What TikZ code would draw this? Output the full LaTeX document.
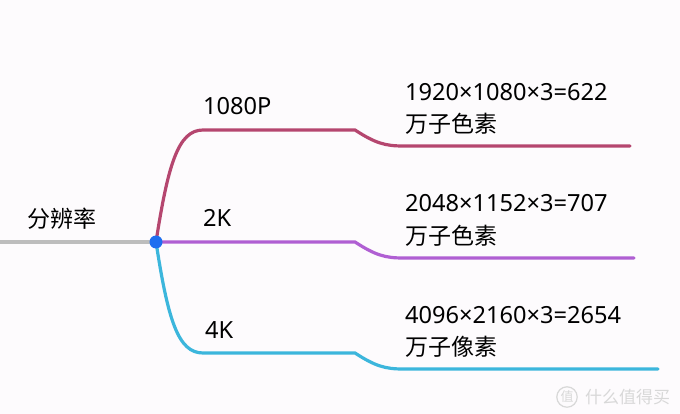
\documentclass[tikz,border=0pt]{standalone}
\usepackage{fontspec}
\setmainfont{Noto Sans}
\newfontfamily\cjk{Noto Sans CJK SC}
\definecolor{cMag}{HTML}{B5466F}
\definecolor{cPur}{HTML}{B05FD3}
\definecolor{cCyan}{HTML}{3CB6DC}
\definecolor{cGray}{HTML}{BDBDBD}
\definecolor{cDot}{HTML}{1E6FF0}
\definecolor{cBg}{HTML}{FDFBFD}
\definecolor{cWm}{HTML}{D8D8D8}
\begin{document}
\begin{tikzpicture}[x=1pt,y=-1pt,
  lbl/.style={inner sep=0pt,anchor=west,font=\fontsize{23.6}{26}\selectfont},
  zh/.style={inner sep=0pt,anchor=west,font=\cjk\fontsize{23}{26}\selectfont},
  br/.style={line width=3.2pt,line cap=round}]
\fill[cBg] (0,0) rectangle (680,414);
\useasboundingbox (0,0) rectangle (680,414);
% root
\node[zh,anchor=center] (root) at (62,219) {分辨率};
\coordinate (left) at (0,242);
\coordinate (hub) at (156,242);
% 1080P
\coordinate (a1) at (203,130);
\coordinate (a2) at (355,130);
\coordinate (a3) at (403,146);
\coordinate (a4) at (630,146);
% 2K
\coordinate (b2) at (355,242);
\coordinate (b3) at (403,258);
\coordinate (b4) at (634,258);
% 4K
\coordinate (c1) at (203,353);
\coordinate (c2) at (355,353);
\coordinate (c3) at (403,369);
\coordinate (c4) at (658,369);
\draw[br,cGray,line cap=butt] (left) -- (hub);
\draw[br,cMag] (hub) .. controls (168,165) and (178,130) .. (a1) -- (a2)
  .. controls (375,143) and (385,146) .. (a3) -- (a4);
\draw[br,cPur] (hub) -- (b2) .. controls (375,255) and (385,258) .. (b3) -- (b4);
\draw[br,cCyan] (hub) .. controls (168,320) and (178,353) .. (c1) -- (c2)
  .. controls (375,366) and (385,369) .. (c3) -- (c4);
\fill[cDot] (hub) circle (6.5);
% labels
\node[lbl] (l1) at (203,106) {1080P};
\node[lbl] (l2) at (203,218) {2K};
\node[lbl] (l3) at (205,330) {4K};
\node[lbl] (t1) at (405,92) {1920×1080×3=622};
\node[zh] (z1) at (405,124) {万子色素};
\node[lbl] (t2) at (405,203) {2048×1152×3=707};
\node[zh] (z2) at (405,236) {万子色素};
\node[lbl] (t3) at (405,315) {4096×2160×3=2654};
\node[zh] (z3) at (405,347) {万子像素};
% watermark
\node[draw=cWm,line width=1.2pt,circle,inner sep=1pt,text=cWm,font=\cjk\fontsize{13}{14}\selectfont] (wm1) at (567,397) {值};
\node[inner sep=0pt,anchor=west,text=cWm,font=\cjk\fontsize{17}{18}\selectfont] (wm2) at (585,397) {什么值得买};
\end{tikzpicture}
\end{document}
